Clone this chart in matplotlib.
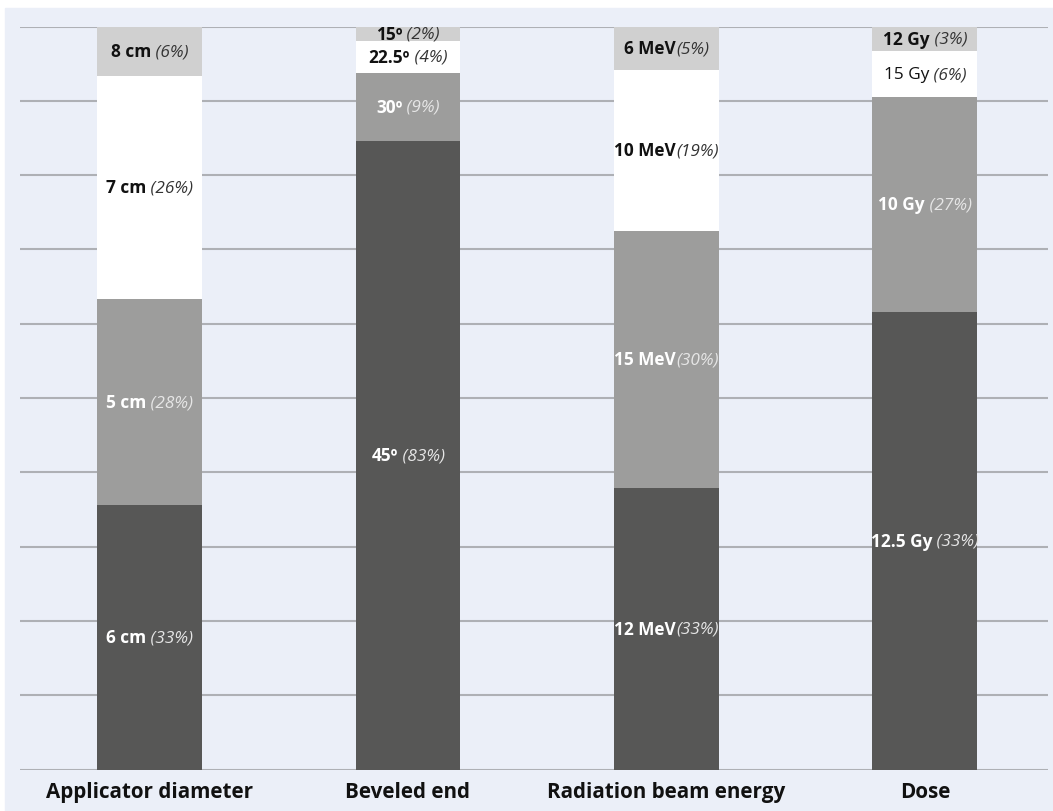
import numpy as np
import matplotlib.pyplot as plt
from matplotlib.patches import Rectangle

plt.rcParams['font.family'] = ['Open Sans', 'DejaVu Sans']

categories = ['Applicator diameter', 'Beveled end', 'Radiation beam energy', 'Dose']

# segment heights (% of bar), bottom to top
dark = [35.6, 84.6, 37.9, 61.6]
mid = [27.7, 9.2, 34.6, 28.9]
white = [30.1, 4.2, 21.7, 6.2]
light = [6.6, 2.0, 5.8, 3.3]

# label text per segment: (bold part, italic part)
dark_lbl = [('6 cm', ' (33%)'), ('45º', ' (83%)'), ('12 MeV', '(33%)'), ('12.5 Gy', ' (33%)')]
mid_lbl = [('5 cm', ' (28%)'), ('30º', ' (9%)'), ('15 MeV', '(30%)'), ('10 Gy', ' (27%)')]
white_lbl = [('7 cm', ' (26%)'), ('22.5º', ' (4%)'), ('10 MeV', '(19%)'), ('15 Gy', ' (6%)')]
light_lbl = [('8 cm', ' (6%)'), ('15º', ' (2%)'), ('6 MeV', '(5%)'), ('12 Gy', ' (3%)')]

colors = ['#575756', '#9d9d9c', '#ffffff', '#d0d0d0']

fig = plt.figure(figsize=(10.53, 8.12), dpi=100)
fig.add_artist(Rectangle((5/1053, 0), 1, 1 - 9/812, transform=fig.transFigure,
                         color='#ebeff8', zorder=-5))
ax = fig.add_axes([20/1053, 41.5/812, 1028/1053, 743/812])
ax.set_facecolor('none')

x = np.arange(len(categories))
bottom = np.zeros(len(categories))
stacks = [(dark, dark_lbl), (mid, mid_lbl), (white, white_lbl), (light, light_lbl)]
for (vals, lbls), c in zip(stacks, colors):
    ax.bar(x, vals, 0.406, bottom=bottom, color=c, zorder=2)
    bottom += np.array(vals)

ax.set_xlim(-0.501, 3.476)
ax.set_ylim(0, 100)
ax.set_yticks(np.arange(0, 101, 10))
ax.yaxis.grid(True, color='#aeb0b5', lw=1.5)
ax.set_axisbelow(True)
ax.tick_params(left=False, bottom=False, labelleft=False)
for s in ax.spines.values():
    s.set_visible(False)
ax.set_xticks(x)
ax.set_xticklabels(categories, fontsize=14.9, fontweight='bold', color='#111111')
ax.tick_params(axis='x', pad=5)

# segment labels: bold name + italic share, centred as one string
fig.canvas.draw()
r = fig.canvas.get_renderer()
px_per_x = ax.bbox.width / (ax.get_xlim()[1] - ax.get_xlim()[0])
bottom = np.zeros(len(categories))
for i, ((vals, lbls), c) in enumerate(zip(stacks, colors)):
    dark_bg = i < 2
    for j in range(len(categories)):
        yc = bottom[j] + vals[j] / 2
        b, it = lbls[j]
        bw = 'normal' if b == '15 Gy' else 'bold'
        col1 = 'white' if dark_bg else '#111111'
        col2 = '#e6e6e6' if dark_bg else '#333333'
        t1 = ax.text(x[j], yc, b, fontsize=12.4, fontweight=bw, color=col1,
                     ha='left', va='center', zorder=3)
        t2 = ax.annotate(it, xy=(1, 0.5), xycoords=t1, fontsize=12.4, style='italic',
                         color=col2, ha='left', va='center', zorder=3)
        w = t1.get_window_extent(r).width + t2.get_window_extent(r).width
        t1.set_x(x[j] - w / 2 / px_per_x)
    bottom += np.array(vals)

fig.savefig('out.png', dpi=100)
